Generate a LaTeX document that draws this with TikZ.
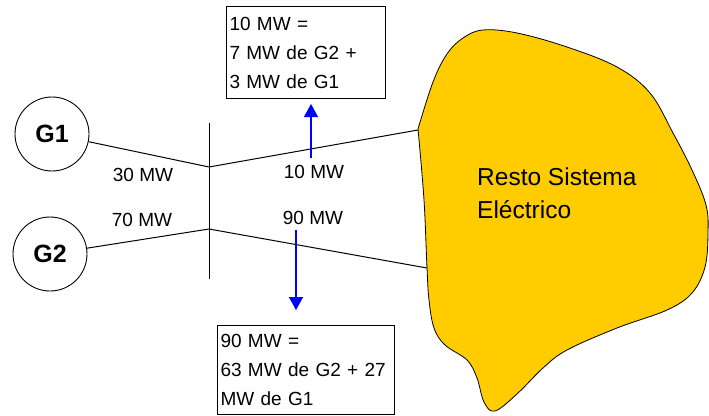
\documentclass[tikz,border=0pt]{standalone}
\usepackage{fontspec}
\setmainfont{Liberation Sans}
\usetikzlibrary{arrows.meta}
\definecolor{sysyellow}{RGB}{255,204,0}
\definecolor{flowblue}{RGB}{0,0,255}

\begin{document}
\begin{tikzpicture}[x=1pt,y=-1pt,
  gen/.style={draw,circle,line width=0.9pt,minimum size=74pt,inner sep=0pt,font=\fontsize{25}{30}\selectfont\bfseries},
  lbl/.style={inner sep=0pt,font=\fontsize{19}{23}\selectfont},
  flowbox/.style={draw,line width=1pt,anchor=north west,align=left,inner sep=3pt,font=\fontsize{19}{29}\selectfont},
  wire/.style={line width=1pt},
  flow/.style={draw=flowblue,line width=1.4pt,-{Triangle[width=14pt,length=13pt]}}]

  \useasboundingbox (0,0) rectangle (709,415);

  % rest of the system
  \draw[fill=sysyellow,line width=0.8pt] plot[smooth,tension=0.6] coordinates {(418,129) (433,82) (447,54) (463,38) (483,30) (517,33) (567,47) (617,67) (650,93) (673,133) (692,170) (706,205) (708,233) (705,267) (692,293) (667,310) (617,328) (567,350) (543,368) (518,393) (495,411) (484,402) (477,378) (467,360) (445,345) (434,328) (429,300) (427,268) (424,200) (418,129)} -- cycle;
  \node[anchor=north west,align=left,inner sep=0pt,font=\fontsize{24.5}{33}\selectfont] (RS) at (477,168) {Resto Sistema\\ Eléctrico};
  \coordinate (R1) at (418,130);
  \coordinate (R2) at (427,268);

  % generators and bus
  \node[gen] (G1) at (52,134) {G1};
  \node[gen] (G2) at (50,254) {G2};
  \coordinate (BT) at (209,123);
  \coordinate (BB) at (209,279);
  \coordinate (B1) at (209,167);
  \coordinate (B2) at (209,229);
  \draw[wire] (BT) -- (BB);

  \draw[wire] (G1) -- (B1);
  \draw[wire] (G2) -- (B2);
  \draw[wire] (B1) -- (R1);
  \draw[wire] (B2) -- (R2);

  \node[lbl] (P30) at (143,175) {30 MW};
  \node[lbl] (P70) at (142,220) {70 MW};
  \node[lbl] (P10) at (314,172) {10 MW};
  \node[lbl] (P90) at (313,218) {90 MW};

  % share of each generator
  \node[flowbox,text width=153pt,minimum height=92pt] (TOP) at (226,6) {10 MW =\\ 7 MW de G2 +\\ 3 MW de G1};
  \node[flowbox,text width=171pt,minimum height=89pt] (BOT) at (217,325) {90 MW =\\ 63 MW de G2 + 27\\ MW de G1};

  \coordinate (U0) at (311,158);
  \coordinate (U1) at (311,104);
  \draw[flow] (U0) -- (U1);
  \coordinate (D0) at (296,230);
  \coordinate (D1) at (296,310);
  \draw[flow] (D0) -- (D1);

\end{tikzpicture}
\end{document}
